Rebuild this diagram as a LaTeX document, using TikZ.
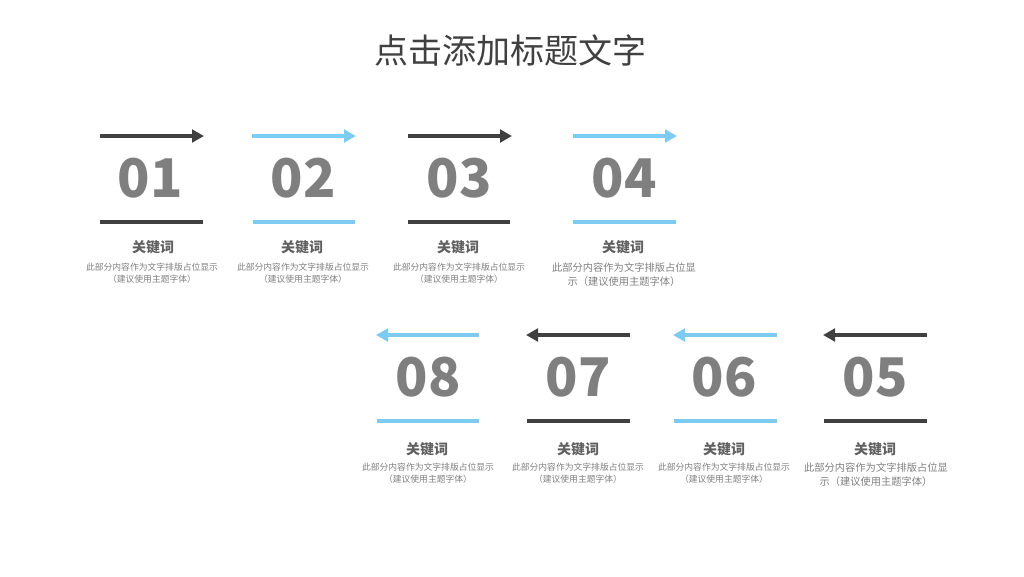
\documentclass[tikz,border=0pt]{standalone}
\usepackage{fontspec}
\setmainfont{Noto Sans CJK SC}
\usetikzlibrary{arrows.meta,positioning}
\definecolor{darkbar}{RGB}{64,64,64}
\definecolor{bluebar}{RGB}{125,203,240}
\definecolor{numgray}{RGB}{127,127,127}
\definecolor{keygray}{RGB}{96,96,96}
\definecolor{descgray}{RGB}{127,127,127}
\tikzset{
	darkarrow/.style={draw=darkbar,line width=3pt,-{Triangle[length=9pt,width=9.5pt]}},
	bluearrow/.style={draw=bluebar,line width=3pt,-{Triangle[length=9pt,width=9.5pt]}},
	darkline/.style={draw=darkbar,line width=3pt},
	blueline/.style={draw=bluebar,line width=3pt},
	num/.style={anchor=base,inner sep=0pt,text=numgray,font=\fontsize{40}{40}\selectfont\bfseries},
	key/.style={inner sep=0pt,text=keygray,font=\fontsize{10.5}{12}\selectfont\bfseries},
	desc/.style={inner sep=0pt,align=center,text=descgray,font=\fontsize{6.6}{9}\selectfont},
	widedesc/.style={inner sep=0pt,align=center,text=descgray,font=\fontsize{7.7}{10.5}\selectfont}
}
\begin{document}
\begin{tikzpicture}[x=0.75pt,y=-0.75pt]
		\useasboundingbox (0,0) rectangle (1024,576);
		\node[text=darkbar,font=\fontsize{25.5}{30}\selectfont] (title) at (510,50) {点击添加标题文字};
		% first row, left to right
		\coordinate (A1s) at (100,136); \coordinate (A1e) at (204,136);
		\coordinate (L1s) at (100,222); \coordinate (L1e) at (203,222);
		\draw[darkarrow] (A1s) -- (A1e);
		\node[num] (N1) at (150,197) {01};
		\draw[darkline] (L1s) -- (L1e);
		\node[key] (K1) at (153,247) {关键词};
		\node[desc] (D1) at (152,273) {此部分内容作为文字排版占位显示\\（建议使用主题字体）};
		\coordinate (A2s) at (252,136); \coordinate (A2e) at (356,136);
		\coordinate (L2s) at (253,222); \coordinate (L2e) at (355,222);
		\draw[bluearrow] (A2s) -- (A2e);
		\node[num] (N2) at (303,197) {02};
		\draw[blueline] (L2s) -- (L2e);
		\node[key] (K2) at (302,247) {关键词};
		\node[desc] (D2) at (303,273) {此部分内容作为文字排版占位显示\\（建议使用主题字体）};
		\coordinate (A3s) at (408,136); \coordinate (A3e) at (512,136);
		\coordinate (L3s) at (408,222); \coordinate (L3e) at (510,222);
		\draw[darkarrow] (A3s) -- (A3e);
		\node[num] (N3) at (459,197) {03};
		\draw[darkline] (L3s) -- (L3e);
		\node[key] (K3) at (458,247) {关键词};
		\node[desc] (D3) at (459,273) {此部分内容作为文字排版占位显示\\（建议使用主题字体）};
		\coordinate (A4s) at (573,136); \coordinate (A4e) at (677,136);
		\coordinate (L4s) at (573,222); \coordinate (L4e) at (676,222);
		\draw[bluearrow] (A4s) -- (A4e);
		\node[num] (N4) at (624,197) {04};
		\draw[blueline] (L4s) -- (L4e);
		\node[key] (K4) at (623,247) {关键词};
		\node[widedesc] (D4) at (624,274.5) {此部分内容作为文字排版占位显\\示（建议使用主题字体）};
		% second row, right to left
		\coordinate (A5s) at (927,335); \coordinate (A5e) at (823,335);
		\coordinate (L5s) at (824,421); \coordinate (L5e) at (927,421);
		\draw[darkarrow] (A5s) -- (A5e);
		\node[num] (N5) at (875,396) {05};
		\draw[darkline] (L5s) -- (L5e);
		\node[key] (K5) at (875,449) {关键词};
		\node[widedesc] (D5) at (876,475) {此部分内容作为文字排版占位显\\示（建议使用主题字体）};
		\coordinate (A6s) at (777,335); \coordinate (A6e) at (673,335);
		\coordinate (L6s) at (674,421); \coordinate (L6e) at (777,421);
		\draw[bluearrow] (A6s) -- (A6e);
		\node[num] (N6) at (724,396) {06};
		\draw[blueline] (L6s) -- (L6e);
		\node[key] (K6) at (724,449) {关键词};
		\node[desc] (D6) at (724,473) {此部分内容作为文字排版占位显示\\（建议使用主题字体）};
		\coordinate (A7s) at (630,335); \coordinate (A7e) at (526,335);
		\coordinate (L7s) at (527,421); \coordinate (L7e) at (630,421);
		\draw[darkarrow] (A7s) -- (A7e);
		\node[num] (N7) at (578,396) {07};
		\draw[darkline] (L7s) -- (L7e);
		\node[key] (K7) at (578,449) {关键词};
		\node[desc] (D7) at (578,473) {此部分内容作为文字排版占位显示\\（建议使用主题字体）};
		\coordinate (A8s) at (479,335); \coordinate (A8e) at (376,335);
		\coordinate (L8s) at (377,421); \coordinate (L8e) at (479,421);
		\draw[bluearrow] (A8s) -- (A8e);
		\node[num] (N8) at (428,396) {08};
		\draw[blueline] (L8s) -- (L8e);
		\node[key] (K8) at (427,449) {关键词};
		\node[desc] (D8) at (428,473) {此部分内容作为文字排版占位显示\\（建议使用主题字体）};
	\end{tikzpicture}
\end{document}
